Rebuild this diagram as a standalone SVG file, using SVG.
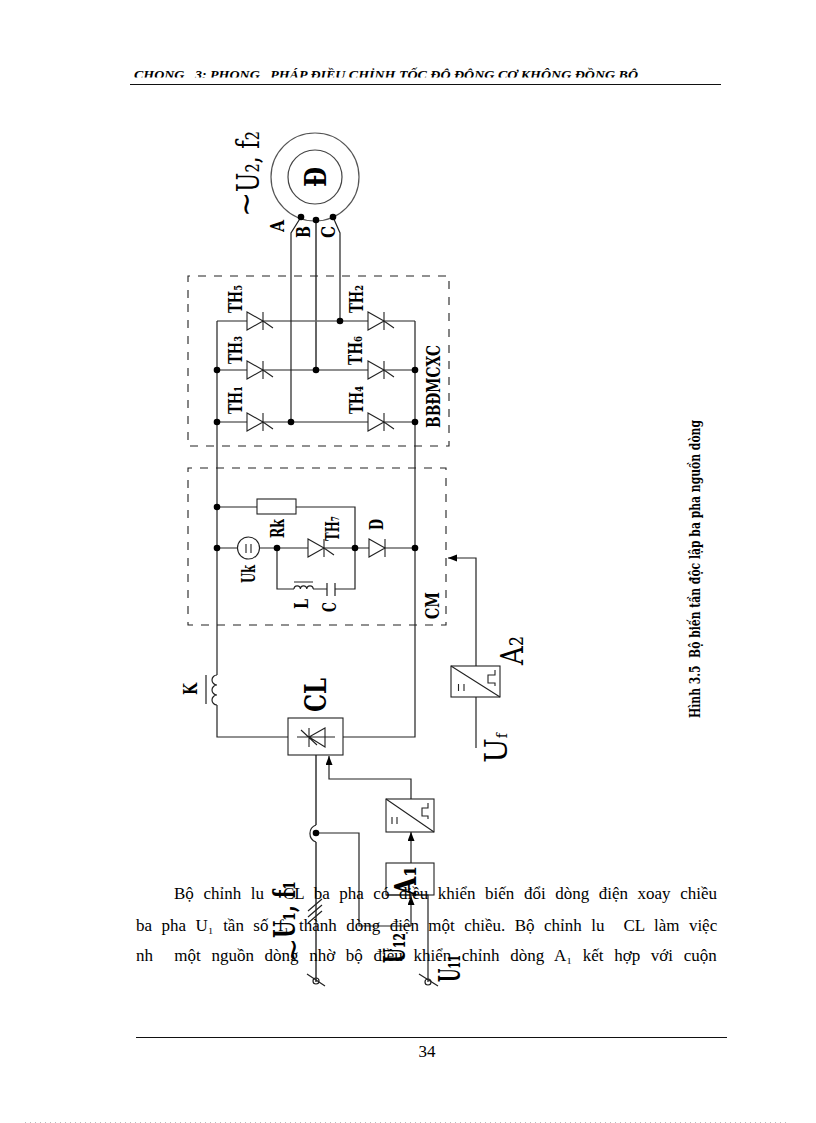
<svg xmlns="http://www.w3.org/2000/svg" width="816" height="1123" viewBox="0 0 816 1123">
<style>
.w{fill:none;stroke:#222;stroke-width:1.2}
.g{fill:none;stroke:#666;stroke-width:2}
.t{fill:none;stroke:#222;stroke-width:1.100}
.d{fill:none;stroke:#222;stroke-width:1.100;stroke-dasharray:8 8}
.dot{fill:#000}
text{font-family:"Liberation Serif",serif;fill:#000}
.l{font-family:"DejaVu Serif",serif;font-size:18px;font-weight:bold}
.b{font-family:"DejaVu Serif",serif;font-size:32px}
.bb{font-family:"DejaVu Serif",serif;font-size:30px;font-weight:bold}
.p{font-size:17px}
</style>
<defs>
<clipPath id="hc"><rect x="120" y="60" width="620" height="17.500"/></clipPath>
<g id="thy"><path class="t" d="M0-9V9L16 0ZM16-9V9M16 0l10 7"/></g>
<marker id="ah" markerWidth="10" markerHeight="8" refX="9" refY="3.500" orient="auto" markerUnits="userSpaceOnUse"><path d="M0 0L9 3.500L0 7Z" fill="#000"/></marker>
</defs>
<rect width="816" height="1123" fill="#fff"/>
<g id="header">
<text clip-path="url(#hc)" x="134" y="79" font-size="13" font-weight="bold" font-style="italic" textLength="504" lengthAdjust="spacingAndGlyphs" xml:space="preserve">CHONG   3: PHONG   PHÁP ĐIỀU CHỈNH TỐC ĐỘ ĐỘNG CƠ KHÔNG ĐỒNG BỘ</text>
<path d="M130 84.500H721" stroke="#111" stroke-width="1.200"/>
</g>
<g id="connectors">
<path class="w" d="M217 321V675M217 705V737H288M343 737H415V321M217 321H247M263 321H368M384 321H415M217 370H247M263 370H368M384 370H415M217 422H247M263 422H368M384 422H415"/>
<path class="w" d="M291 422V233L301 217M340 321V233L333 217"/>
<path class="g" d="M316 370V220M316 755V825M316 842V982"/>
<path class="w" d="M316 825A9 9 0 0 0 316 842"/>
<path class="w" d="M217 507H257M296 507H355V548M217 548H238M260 548H308M324 548H369M385 548H415M277 548V589H294M313 589H327M335 589H355V548"/>
<path class="w" d="M327 583V596M335 583V596M294 582H313"/>
<path class="w" d="M294 589a3.200 3.200 0 0 1 6.400 0a3.200 3.200 0 0 1 6.400 0a3.200 3.200 0 0 1 6.400 0"/>
<path class="w" marker-end="url(#ah)" d="M476 666V558H448"/>
<path class="w" d="M476 697V748"/>
<path class="w" marker-end="url(#ah)" d="M411 799V779H329V756"/>
<path class="w" marker-end="url(#ah)" d="M411 863V832"/>
<path class="w" marker-end="url(#ah)" d="M411 926V896"/>
<path class="w" d="M316 833H359V926H411M386 895H428V982"/>
<path class="w" d="M308 911L322 899M308 917L322 905M308 923L322 911"/>
<path class="w" d="M307 974L325 986M419 974L438 986"/>
<circle class="w" cx="316" cy="981" r="3"/><circle class="w" cx="428" cy="982" r="3"/>
</g>
<g id="motor">
<circle cx="315" cy="177" r="44" fill="none" stroke="#555" stroke-width="1.200"/>
<circle cx="315" cy="177" r="27" fill="none" stroke="#444" stroke-width="1.200"/>
<circle class="dot" cx="301" cy="217" r="3.300"/><circle class="dot" cx="316" cy="220" r="3.300"/><circle class="dot" cx="333" cy="217" r="3.300"/>
<text transform="translate(326 187) rotate(-90)" class="bb" textLength="20" lengthAdjust="spacingAndGlyphs">Đ</text>
<text transform="translate(259 192) rotate(-90)" class="b" textLength="61" lengthAdjust="spacingAndGlyphs">U₂, f₂</text>
<text transform="translate(256 217) rotate(-90)" style="font-size:30px">∼</text>
<text transform="translate(284 232) rotate(-90)" class="l" textLength="12" lengthAdjust="spacingAndGlyphs">A</text>
<text transform="translate(310 238) rotate(-90)" class="l" textLength="12" lengthAdjust="spacingAndGlyphs">B</text>
<text transform="translate(335 238) rotate(-90)" class="l" textLength="12" lengthAdjust="spacingAndGlyphs">C</text>
</g>
<g id="BBDMCXC">
<path class="d" d="M188 298V276H449V446H188Z"/>
<text transform="translate(440 428) rotate(-90)" class="l" textLength="83" lengthAdjust="spacingAndGlyphs">BBĐMCXC</text>
<use href="#thy" x="247" y="321"/><use href="#thy" x="247" y="370"/><use href="#thy" x="247" y="422"/>
<use href="#thy" x="368" y="321"/><use href="#thy" x="368" y="370"/><use href="#thy" x="368" y="422"/>
<circle class="dot" cx="340" cy="321" r="3.300"/><circle class="dot" cx="217" cy="370" r="3.300"/><circle class="dot" cx="316" cy="370" r="3.300"/><circle class="dot" cx="415" cy="370" r="3.300"/><circle class="dot" cx="217" cy="422" r="3.300"/><circle class="dot" cx="291" cy="422" r="3.300"/><circle class="dot" cx="415" cy="422" r="3.300"/>
<text transform="translate(242 313) rotate(-90)" class="l" textLength="28" lengthAdjust="spacingAndGlyphs">TH₅</text>
<text transform="translate(242 364) rotate(-90)" class="l" textLength="28" lengthAdjust="spacingAndGlyphs">TH₃</text>
<text transform="translate(242 414) rotate(-90)" class="l" textLength="28" lengthAdjust="spacingAndGlyphs">TH₁</text>
<text transform="translate(363 313) rotate(-90)" class="l" textLength="28" lengthAdjust="spacingAndGlyphs">TH₂</text>
<text transform="translate(362 365) rotate(-90)" class="l" textLength="29" lengthAdjust="spacingAndGlyphs">TH₆</text>
<text transform="translate(363 414) rotate(-90)" class="l" textLength="28" lengthAdjust="spacingAndGlyphs">TH₄</text>
</g>
<g id="CM">
<path class="d" d="M188 488V468H446V625H188Z"/>
<text transform="translate(439 619) rotate(-90)" class="l" textLength="27" lengthAdjust="spacingAndGlyphs">CM</text>
<rect class="t" x="257" y="499" width="39" height="15" fill="#fff"/>
<circle class="t" cx="248.500" cy="548" r="11"/><path class="t" d="M246 544V553M251 544V553"/>
<use href="#thy" x="308" y="548"/>
<path class="t" d="M369 539V557L385 548ZM385 539V557"/>
<circle class="dot" cx="217" cy="507" r="3.300"/><circle class="dot" cx="217" cy="548" r="3.300"/><circle class="dot" cx="277" cy="548" r="3.300"/><circle class="dot" cx="355" cy="548" r="3.300"/><circle class="dot" cx="415" cy="548" r="3.300"/>
<text transform="translate(284 538) rotate(-90)" class="l" textLength="19" lengthAdjust="spacingAndGlyphs">Rk</text>
<text transform="translate(255 583) rotate(-90)" class="l" textLength="18" lengthAdjust="spacingAndGlyphs">Uk</text>
<text transform="translate(339 541) rotate(-90)" class="l" textLength="25" lengthAdjust="spacingAndGlyphs">TH₇</text>
<text transform="translate(383 530) rotate(-90)" class="l" textLength="11" lengthAdjust="spacingAndGlyphs">D</text>
<text transform="translate(308 609) rotate(-90)" class="l" textLength="10" lengthAdjust="spacingAndGlyphs">L</text>
<text transform="translate(336 612) rotate(-90)" class="l" textLength="10" lengthAdjust="spacingAndGlyphs">C</text>
</g>
<g id="K">
<path class="w" d="M217 675a4.500 4.500 0 1 0 0 10a4.500 4.500 0 1 0 0 10a4.500 4.500 0 1 0 0 10"/>
<path class="w" d="M206 675V704"/>
<text transform="translate(197 695) rotate(-90)" class="l" textLength="12" lengthAdjust="spacingAndGlyphs">K</text>
</g>
<g id="CL">
<rect class="t" x="288" y="718" width="55" height="37"/>
<path class="t" d="M297 737H335M325 728V747L309 737ZM309 728V747M301 730L317 745"/>
<text transform="translate(326 712) rotate(-90)" class="bb" textLength="34" lengthAdjust="spacingAndGlyphs">CL</text>
</g>
<g id="conv2">
<rect class="t" x="451" y="666" width="49" height="31"/>
<path class="t" d="M451 666L500 697M458.500 684V691M464 684V691M495 670V675H488V683H495V686"/>
<text transform="translate(523 665) rotate(-90)" class="b" textLength="29" lengthAdjust="spacingAndGlyphs">A₂</text>
<text transform="translate(507 763) rotate(-90)" class="b" textLength="30" lengthAdjust="spacingAndGlyphs">U<tspan font-size="15">f</tspan></text>
</g>
<g id="conv1">
<rect class="t" x="386" y="799" width="48" height="33"/>
<path class="t" d="M386 799L434 832M392 817V824M397 817V824M428 803V808H422V816H428V819"/>
</g>
<g id="A1">
<rect class="t" x="386" y="863" width="48" height="32"/>
<text transform="translate(416 896) rotate(-90)" class="bb" textLength="30" lengthAdjust="spacingAndGlyphs">A₁</text>
</g>
<g id="labels">
<text transform="translate(295 938) rotate(-90)" class="bb" textLength="57" lengthAdjust="spacingAndGlyphs">U₁, f₁</text>
<text transform="translate(303 963) rotate(-90)" style="font-size:30px">∼</text>
<text transform="translate(405 963) rotate(-90)" class="bb" textLength="30" lengthAdjust="spacingAndGlyphs">U₁₂</text>
<text transform="translate(460 982) rotate(-90)" class="bb" textLength="27" lengthAdjust="spacingAndGlyphs">U₁₁</text>
<circle class="dot" cx="316" cy="833" r="3.300"/>
</g>
<g id="body">
<text class="p" x="174" y="899" word-spacing="5.300" xml:space="preserve">Bộ chỉnh lu  CL ba pha có điều khiển biến đổi dòng điện xoay chiều</text>
<text class="p" x="136" y="931" word-spacing="5.200" xml:space="preserve">ba pha U₁ tần số f₁ thành dòng điện một chiều. Bộ chỉnh lu  CL làm việc</text>
<text class="p" x="136" y="961" word-spacing="6.400" xml:space="preserve">nh  một nguồn dòng nhờ bộ điều khiển chỉnh dòng A₁ kết hợp với cuộn</text>
</g>
<g id="caption">
<text transform="translate(700 718) rotate(-90)" font-size="15" style="font-family:'DejaVu Serif',serif;font-weight:bold" textLength="298" lengthAdjust="spacingAndGlyphs" xml:space="preserve">Hình 3.5  Bộ biến tần độc lập ba pha nguồn dòng</text>
</g>
<g id="footer">
<path d="M136 1037.500H727" stroke="#111" stroke-width="1.200"/>
<text class="p" x="427" y="1057" text-anchor="middle">34</text>
<path d="M25 1122.500H790" stroke="#bbb" stroke-width="1" stroke-dasharray="1 4"/>
</g>
</svg>
